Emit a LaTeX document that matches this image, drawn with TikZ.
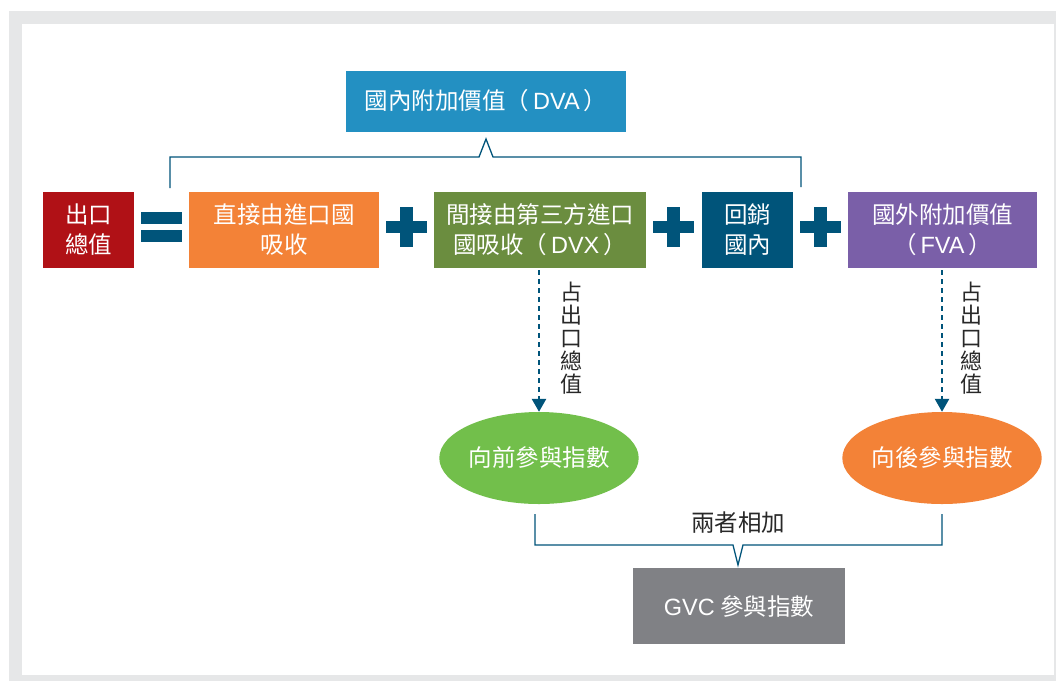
\documentclass[tikz,border=0pt]{standalone}
\usepackage{fontspec}
\setmainfont{Noto Sans CJK TC}
\newfontfamily\latf{Liberation Sans}
\usetikzlibrary{arrows.meta,shapes.geometric}
\definecolor{frameg}{RGB}{230,231,232}
\definecolor{navy}{RGB}{0,84,122}
\definecolor{dvab}{RGB}{35,144,194}
\definecolor{redb}{RGB}{176,17,22}
\definecolor{orangeb}{RGB}{243,130,55}
\definecolor{greenb}{RGB}{107,141,63}
\definecolor{purpb}{RGB}{122,95,168}
\definecolor{lgreen}{RGB}{114,191,75}
\definecolor{grayb}{RGB}{128,129,133}
\definecolor{txt}{RGB}{40,40,40}
\tikzset{
  box/.style={rectangle, inner sep=0pt, text=white, align=center,
    font=\fontsize{23.5}{30}\selectfont},
  oval/.style={ellipse, inner sep=0pt, text=white, align=center,
    minimum width=196pt, minimum height=92pt, font=\fontsize{23.5}{30}\selectfont},
  dasharrow/.style={navy, line width=2.6pt, dash pattern=on 5pt off 4pt,
    -{Triangle[width=14pt,length=13pt]}},
  bracket/.style={navy, line width=1.3pt, line join=miter},
  vlabel/.style={text=txt, align=center, inner sep=0pt,
    font=\fontsize{22}{23}\selectfont},
  hlabel/.style={text=txt, inner sep=0pt, font=\fontsize{23.5}{26}\selectfont},
  signbar/.style={fill=navy}
}
\begin{document}
\begin{tikzpicture}[x=1pt,y=-1pt]
\useasboundingbox (0,0) rectangle (1056,681);
\fill[frameg] (9,11) rectangle (1056,681);
\fill[white] (22,24) rectangle (1054,675);

% boxes
\node[box, fill=dvab, minimum width=280pt, minimum height=61pt] (dva) at (486,101) {國內附加價值（{\latf\,DVA\,}）};
\node[box, fill=redb, minimum width=91pt, minimum height=76pt] (total) at (88.5,230) {出口\\總值};
\node[box, fill=orangeb, minimum width=190pt, minimum height=76pt] (direct) at (284,230) {直接由進口國\\吸收};
\node[box, fill=greenb, minimum width=212pt, minimum height=76pt] (indirect) at (540,230) {間接由第三方進口\\國吸收（{\latf\,DVX\,}）};
\node[box, fill=navy, minimum width=91pt, minimum height=76pt] (domestic) at (747.5,230) {回銷\\國內};
\node[box, fill=purpb, minimum width=189pt, minimum height=76pt] (fva) at (942.5,230) {國外附加價值\\（{\latf\,FVA\,}）};

\node[oval, fill=lgreen] (fwd) at (539,458) {向前參與指數};
\node[oval, fill=orangeb] (bwd) at (942,458) {向後參與指數};

\node[box, fill=grayb, minimum width=212pt, minimum height=76pt] (gvc) at (739,606) {{\latf GVC} 參與指數};

% equals sign
\fill[signbar] (141,212) rectangle (182,224);
\fill[signbar] (141,230) rectangle (182,242);
% plus signs
\foreach \cx in {406.5,673.5,820.5}{
  \fill[signbar] (\cx-20.5,221) rectangle (\cx+20.5,233);
  \fill[signbar] (\cx-6.5,207) rectangle (\cx+6.5,247);
}

% top bracket
\coordinate (tl) at (170,188);
\coordinate (tr) at (801,187);
\draw[bracket] (tl) -- (170,157) -- (479,157) -- (486,139) -- (493,157) -- (801,157) -- (tr);

% dashed arrows
\draw[dasharrow] (fwd.north |- indirect.south) ++(0,2) -- (fwd.north);
\draw[dasharrow] (bwd.north |- fva.south) ++(0,2) -- (bwd.north);
\node[vlabel] (lab1) at (571,338) {占\\出\\口\\總\\值};
\node[vlabel] (lab2) at (971,338) {占\\出\\口\\總\\值};

% bottom bracket
\coordinate (bl) at (535,514);
\coordinate (br) at (942,514);
\draw[bracket] (bl) -- (535,545) -- (733,545) -- (738,565) -- (743,545) -- (942,545) -- (br);
\node[hlabel] (sum) at (738,523) {兩者相加};
\end{tikzpicture}
\end{document}
